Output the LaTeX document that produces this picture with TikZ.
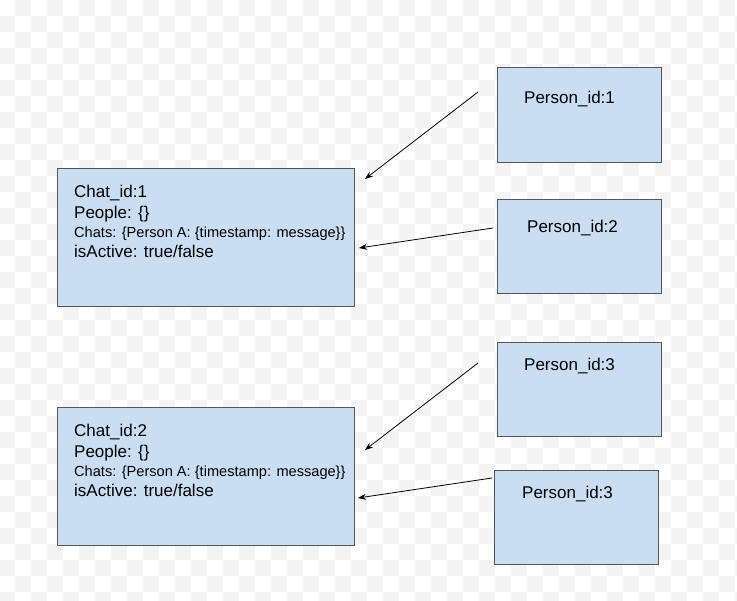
\documentclass[tikz,border=0pt]{standalone}
\usepackage{fontspec}
\setmainfont{Liberation Sans}
\usetikzlibrary{arrows.meta}
\definecolor{boxfill}{HTML}{C9DEF2}
\definecolor{boxline}{HTML}{555555}
\definecolor{checker}{HTML}{F4F4F4}
\tikzset{
  entity/.style={draw=boxline, fill=boxfill, line width=0.9pt, rectangle, inner sep=0pt, anchor=north west},
  bigtxt/.style={anchor=base west, inner sep=0pt, font=\fontsize{17}{19}\selectfont},
  smalltxt/.style={anchor=base west, inner sep=0pt, font=\fontsize{14.6}{16}\selectfont},
  link/.style={draw=black, line width=0.8pt, -{Stealth[length=8pt,width=6pt]}}
}
\begin{document}
\begin{tikzpicture}[x=1pt,y=-1pt]
\useasboundingbox (0,0) rectangle (737,601);
% checkerboard background
\fill[white] (0,0) rectangle (737,601);
\begin{scope}
\clip (0,0) rectangle (737,601);
\foreach \i in {0,...,46}{
  \foreach \j in {0,...,37}{
    \pgfmathtruncatemacro\k{mod(\i+\j,2)}
    \ifnum\k=1
      \fill[checker] ({-1+16*\i},{16*\j}) rectangle ({15+16*\i},{16+16*\j});
    \fi
  }
}
\end{scope}
% boxes
\node[entity, minimum width=297pt, minimum height=138pt] (chat1) at (57,168) {};
\node[entity, minimum width=297pt, minimum height=138pt] (chat2) at (57,407) {};
\node[entity, minimum width=164pt, minimum height=95pt] (p1) at (497,67) {};
\node[entity, minimum width=164pt, minimum height=94pt] (p2) at (497,199) {};
\node[entity, minimum width=164pt, minimum height=94pt] (p3) at (497,342) {};
\node[entity, minimum width=164pt, minimum height=94pt] (p4) at (494,470) {};
% texts
\node[bigtxt] (c1a) at (74,198) {Chat\_id:1};
\node[bigtxt] (c1b) at (74,219) {People: \{\}};
\node[smalltxt] (c1c) at (74,238) {Chats: \{Person A: \{timestamp: message\}\}};
\node[bigtxt] (c1d) at (74,258) {isActive: true/false};
\node[bigtxt] (c2a) at (74,437) {Chat\_id:2};
\node[bigtxt] (c2b) at (74,458) {People: \{\}};
\node[smalltxt] (c2c) at (74,477) {Chats: \{Person A: \{timestamp: message\}\}};
\node[bigtxt] (c2d) at (74,497) {isActive: true/false};
\node[bigtxt] (t1) at (524,104) {Person\_id:1};
\node[bigtxt] (t2) at (527,233) {Person\_id:2};
\node[bigtxt] (t3) at (524,371) {Person\_id:3};
\node[bigtxt] (t4) at (522,499) {Person\_id:3};
% connector ends
\coordinate (s1) at (478,92);
\coordinate (e1) at (365,179);
\coordinate (s2) at (493,228);
\coordinate (e2) at (359,248);
\coordinate (s3) at (478,363);
\coordinate (e3) at (365,450);
\coordinate (s4) at (492,478);
\coordinate (e4) at (358,498);
\draw[link] (s1) -- (e1);
\draw[link] (s2) -- (e2);
\draw[link] (s3) -- (e3);
\draw[link] (s4) -- (e4);
\end{tikzpicture}
\end{document}
